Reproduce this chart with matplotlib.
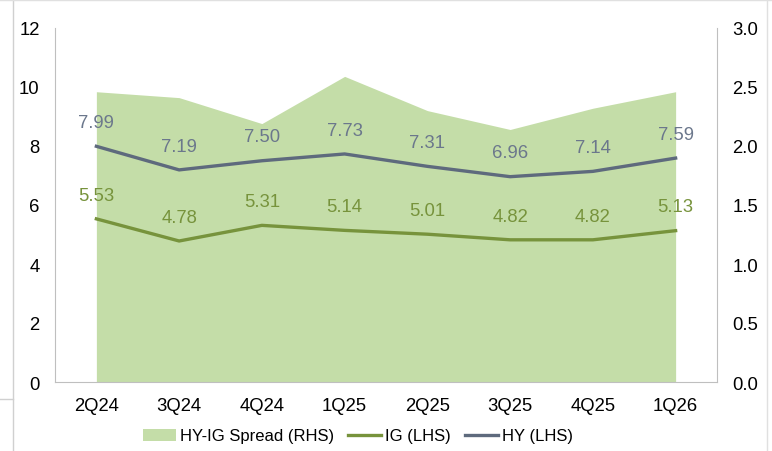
import matplotlib
matplotlib.use("Agg")
import matplotlib.pyplot as plt
from matplotlib.lines import Line2D
from matplotlib.patches import Patch

categories = ["2Q24", "3Q24", "4Q24", "1Q25", "2Q25", "3Q25", "4Q25", "1Q26"]
ig = [5.53, 4.78, 5.31, 5.14, 5.01, 4.82, 4.82, 5.13]
hy = [7.99, 7.19, 7.50, 7.73, 7.31, 6.96, 7.14, 7.59]
spread = [2.46, 2.41, 2.19, 2.59, 2.30, 2.14, 2.32, 2.46]
left_ticks = [0, 2, 4, 6, 8, 10, 12]
right_ticks = [0.0, 0.5, 1.0, 1.5, 2.0, 2.5, 3.0]

plt.rcParams['font.family'] = ['Liberation Sans', 'DejaVu Sans']

c_area = "#c4dda8"
c_ig = "#77933c"
c_hy = "#5e6a7d"
c_hy_lbl = "#6b778c"
c_spine = "#bfbfbf"

fig = plt.figure(figsize=(7.72, 4.52), dpi=100)
ax = fig.add_axes([55/772, 1-383/452, (717-55)/772, (383-29)/452])
ax2 = ax.twinx()

x = list(range(len(categories)))
ax2.fill_between(x, 0, spread, color=c_area, linewidth=0, zorder=1)
ax2.set_ylim(0, 3.0)
ax2.set_yticks(right_ticks)
ax2.set_yticklabels([f"{v:.1f}" for v in right_ticks])

ax.set_zorder(ax2.get_zorder() + 1)
ax.patch.set_visible(False)
ax.plot(x, ig, color=c_ig, lw=2.4, zorder=3)
ax.plot(x, hy, color=c_hy, lw=2.4, zorder=3)
for xi, v in zip(x, ig):
    ax.annotate(f"{v:.2f}", (xi, v), xytext=(0, 11), textcoords="offset points",
                ha="center", va="bottom", color=c_ig, fontsize=13.3)
for xi, v in zip(x, hy):
    ax.annotate(f"{v:.2f}", (xi, v), xytext=(0, 11), textcoords="offset points",
                ha="center", va="bottom", color=c_hy_lbl, fontsize=13.3)

ax.set_xlim(-0.5, len(categories) - 0.5)
ax.set_ylim(0, 12)
ax.set_yticks(left_ticks)
ax.set_xticks(x)
ax.set_xticklabels(categories)

for a in (ax, ax2):
    for s in a.spines.values():
        s.set_visible(False)
    a.tick_params(length=0, labelsize=13.3, colors="black")
ax.spines['left'].set_visible(True)
ax.spines['left'].set_color(c_spine)
ax.spines['bottom'].set_visible(True)
ax.spines['bottom'].set_color(c_spine)
ax2.spines['right'].set_visible(True)
ax2.spines['right'].set_color(c_spine)
ax.tick_params(axis='y', pad=11)
ax.tick_params(axis='x', pad=11)
ax2.tick_params(axis='y', pad=11)

handles = [Patch(facecolor=c_area, edgecolor='none'),
           Line2D([], [], color=c_ig, lw=2.4),
           Line2D([], [], color=c_hy, lw=2.4)]
fig.legend(handles, ["HY-IG Spread (RHS)", "IG (LHS)", "HY (LHS)"],
           loc="center", bbox_to_anchor=(358/772, 1-437/452), ncol=3, frameon=False,
           fontsize=12, handlelength=2.0, columnspacing=0.8, handletextpad=0.25)

# screenshot border lines
fig.add_artist(Line2D([13/772, 13/772], [0, 1], color="#d0d0d0", lw=1))
fig.add_artist(Line2D([0, 1], [1-1/452, 1-1/452], color="#e0e0e0", lw=1))
fig.add_artist(Line2D([0, 13/772], [1-400/452, 1-400/452], color="#d0d0d0", lw=1))
fig.add_artist(Line2D([767/772, 767/772], [0, 1], color="#e0e0e0", lw=1))

fig.savefig("out.png", dpi=100)
